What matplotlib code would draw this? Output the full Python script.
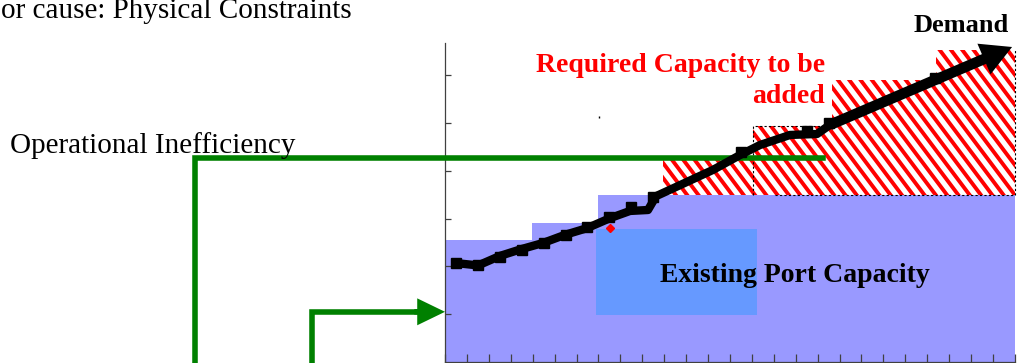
"""
Port capacity gap sketch: existing capacity as a stepped block, demand
climbing through it, and the hatched band of capacity that still has to be
added. Green elbow arrows lead in from the cause labels on the left.
"""
import numpy as np
import matplotlib

matplotlib.use("Agg")
import matplotlib.pyplot as plt
from matplotlib.collections import LineCollection

W, H = 1020, 363
PX_X, PX_Y = 21.92, 47.8  # pixels per data unit on each axis

PURPLE = "#9999ff"
BLUE = "#6699ff"
GREEN = "#008000"
RED = "#ff0000"
INK = "#000000"
AXIS = "#404040"
SERIF = ["Liberation Serif", "DejaVu Serif"]

# existing capacity, stepped
capacity_edges = [0, 3.95, 6.97, 26]
capacity_level = [2.55, 2.91, 3.50]

# core of the existing capacity
core_x = [6.87, 14.22]
core_low, core_high = 0.98, 2.78

# capacity that has to be added on top of the existing block
required_edges = [9.93, 14.04, 17.64, 22.4, 26]
required_level = [4.23, 4.94, 5.90, 6.53]

# demand trajectory
demand_x = [0.50, 1.51, 2.51, 3.47, 4.47, 5.47, 6.48, 7.53, 8.44, 9.26, 9.63,
            10.72, 12.23, 13.46, 14.37, 15.74, 16.97, 17.56]
demand_y = [2.07, 2.02, 2.22, 2.36, 2.49, 2.66, 2.80, 3.01, 3.16, 3.18, 3.47,
            3.70, 4.02, 4.33, 4.54, 4.75, 4.77, 4.96]
demand_end = (25.87, 6.59)

# yearly observations behind the demand curve
obs_x = [0.5, 1.5, 2.5, 3.5, 4.5, 5.5, 6.5, 7.5, 8.5, 9.5, 13.5, 16.5, 17.5, 22.35]
obs_y = [2.08, 2.03, 2.20, 2.34, 2.48, 2.66, 2.83, 3.03, 3.24, 3.45, 4.40, 4.84,
         5.00, 5.94]

# green connectors from the cause labels (axis units, drawn past the frame)
ineff_x = [-11.41, -11.41, 17.24]
ineff_y = [-0.3, 4.27, 4.27]
phys_x = [-6.08, -6.08, 0.0]
phys_y = [-0.3, 1.05, 1.05]


def px_text(fig, x, y, s, **kw):
    fig.text(x / W, 1 - y / H, s, va="baseline", family=SERIF, **kw)


def main():
    fig = plt.figure(figsize=(W / 100, H / 100), dpi=100)
    fig.patch.set_facecolor("white")
    ax = fig.add_axes([445 / W, 1 - 362 / H, 26 * PX_X / W, 319 / H])
    ax.set_xlim(0, 26)
    ax.set_ylim(0, 319 / PX_Y)
    ax.set_facecolor("none")

    ax.stairs(capacity_level, capacity_edges, baseline=0, fill=True,
              color=PURPLE, lw=0, zorder=1)
    ax.fill_between(core_x, core_low, core_high, color=BLUE, lw=0, zorder=2)

    req = ax.stairs(required_level, required_edges, baseline=capacity_level[-1],
                    fill=True, color="white", lw=0, zorder=2)

    # diagonal red stripes (a little steeper than 45 deg on screen),
    # clipped to the required-capacity block
    slope = 1.33 * PX_X / PX_Y
    offsets = np.arange(3.0, 25.0, 11.3 / PX_X * slope)
    segs = [[(8.0, c - slope * 8.0), (27.0, c - slope * 27.0)] for c in offsets]
    stripes = LineCollection(segs, colors=RED, linewidths=2.8, zorder=3)
    ax.add_collection(stripes)
    stripes.set_clip_path(req)

    e = required_edges
    lv = required_level
    ax.plot([e[1], e[1], e[2]], [capacity_level[-1], lv[1], lv[1]],
            color=INK, lw=0.8, ls=(0, (2, 2)), zorder=3.5)
    ax.plot([e[1] + 1.0, e[-1], e[-1]], [capacity_level[-1], capacity_level[-1], lv[-1]],
            color=INK, lw=0.8, ls=(0, (2, 2)), zorder=3.5, clip_on=False)

    # green elbows
    ax.plot(ineff_x, ineff_y, color=GREEN, lw=4, solid_joinstyle="miter",
            clip_on=False, zorder=4)
    ax.plot(phys_x[:2] + [phys_x[2] - 1.0], phys_y, color=GREEN, lw=4,
            solid_joinstyle="miter", clip_on=False, zorder=4)
    ax.annotate("", xy=(phys_x[2], phys_y[2]), xytext=(phys_x[2] - 1.4, phys_y[2]),
                arrowprops=dict(arrowstyle="simple,head_length=1.0,head_width=0.97,tail_width=0.2",
                                mutation_scale=20, color=GREEN, lw=0,
                                shrinkA=0, shrinkB=0),
                annotation_clip=False, zorder=4)

    # demand
    ax.plot([7.53], [2.80], marker="D", ms=4, color=RED, lw=0, zorder=4.5)
    ax.plot([7.03], [5.13], marker="|", ms=2, color=INK, lw=0, zorder=4.5)
    ax.plot(obs_x, obs_y, marker="s", ms=7, color=INK, lw=0, zorder=5)
    ax.plot(demand_x, demand_y, color=INK, lw=6, solid_joinstyle="round",
            solid_capstyle="round", zorder=6)
    ax.annotate("", xy=demand_end, xytext=(demand_x[-1], demand_y[-1]),
                arrowprops=dict(arrowstyle="simple,head_length=1.1,head_width=1.2,tail_width=0.38",
                                mutation_scale=20, color=INK, lw=0,
                                shrinkA=0, shrinkB=0),
                annotation_clip=False, zorder=6)

    for side in ("top", "right"):
        ax.spines[side].set_visible(False)
    for side in ("left", "bottom"):
        ax.spines[side].set_color(AXIS)
        ax.spines[side].set_linewidth(0.9)
    ax.set_xticks(np.arange(0, 27))
    ax.set_yticks(np.arange(1, 7))
    ax.tick_params(axis="x", direction="in", length=6, width=0.9, color=AXIS,
                   labelbottom=False)
    ax.tick_params(axis="y", direction="in", length=4.5, width=0.9, color=AXIS,
                   labelleft=False)

    px_text(fig, 1, 18.5, "or cause: Physical Constraints", fontsize=21, color=INK)
    px_text(fig, 10, 153, "Operational Inefficiency", fontsize=21, color=INK)
    px_text(fig, 825, 72, "Required Capacity to be", fontsize=20, color=RED,
            weight="bold", ha="right")
    px_text(fig, 825, 103, "added", fontsize=20, color=RED, weight="bold", ha="right")
    px_text(fig, 1009, 31.5, "Demand", fontsize=19, color=INK, weight="bold", ha="right")
    px_text(fig, 660, 281.5, "Existing Port Capacity", fontsize=20, color=INK,
            weight="bold")

    fig.savefig("out.png", dpi=100, facecolor="white")


if __name__ == "__main__":
    main()
